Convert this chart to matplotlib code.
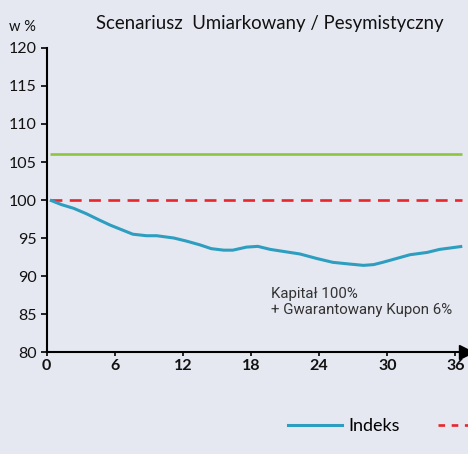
import numpy as np
import matplotlib
matplotlib.use('Agg')
from matplotlib import pyplot as plt
from matplotlib.lines import Line2D

# monthly path of the index (months, % of capital)
months = [0.3, 1.3, 2.4, 3.5, 4.6, 5.6, 6.6, 7.6, 8.8, 9.7, 11.2, 12.3, 13.5,
          14.5, 15.6, 16.4, 17.6, 18.6, 19.7, 21.0, 22.3, 23.8, 25.2, 26.5,
          27.9, 28.8, 29.6, 30.8, 32.0, 33.5, 34.6, 36.6]
indeks = [100.0, 99.4, 98.9, 98.2, 97.4, 96.7, 96.1, 95.5, 95.3, 95.3, 95.0,
          94.6, 94.1, 93.6, 93.4, 93.4, 93.8, 93.9, 93.5, 93.2, 92.9, 92.3,
          91.8, 91.6, 91.4, 91.5, 91.8, 92.3, 92.8, 93.1, 93.5, 93.9]
span = [0.3, 36.6]
gwarancja = [106, 106]
kapital = [100, 100]

xticks = [0, 6, 12, 18, 24, 30, 36]
yticks = [80, 85, 90, 95, 100, 105, 110, 115, 120]

BG = '#e5e8f1'
TEAL = '#2e9ec0'
GREEN = '#8cc63f'
RED = '#e8262b'
FONT = ['Lato', 'DejaVu Sans']

plt.rcParams['font.family'] = FONT

fig = plt.figure(figsize=(4.68, 4.54), dpi=100, facecolor=BG)
ax = fig.add_axes([46.5 / 468, 102 / 454, (37 * 11.36) / 468, 304 / 454])
ax.set_facecolor(BG)

ax.plot(span, gwarancja, color=GREEN, lw=1.9, solid_capstyle='butt')
ax.plot(span, kapital, color=RED, lw=1.9, dashes=(4.5, 2.8))
ax.plot(months, indeks, color=TEAL, lw=2.2, solid_capstyle='butt')

ax.set_xlim(0, 37)
ax.set_ylim(80, 120)
ax.set_xticks(xticks)
ax.set_yticks(yticks)
for s in ('top', 'right'):
    ax.spines[s].set_visible(False)
for s in ('left', 'bottom'):
    ax.spines[s].set_linewidth(1.5)
ax.tick_params(axis='y', length=4, width=1.2, labelsize=11.5, pad=3,
               labelcolor='#111111')
ax.tick_params(axis='x', length=3, width=1.2, labelsize=11.5, pad=2,
               labelcolor='#111111')
for lab in ax.get_xticklabels():
    lab.set_fontweight('bold')

# arrow head at the end of the x axis
ax.plot([36.95], [80], marker='>', ms=9.5, color='black', clip_on=False)

fig.text(96 / 468, 1 - 24 / 454, 'Scenariusz  Umiarkowany / Pesymistyczny',
         fontsize=13.4, va='center', ha='left', color='#111111')
fig.text(9 / 468, 1 - 27 / 454, 'w %', fontsize=10.5, va='center',
         ha='left', color='#111111')
ax.text(19.8, 86.6, 'Kapitał 100%\n+ Gwarantowany Kupon 6%', fontsize=10.8,
        color='#333333', family=['Roboto', 'DejaVu Sans'],
        linespacing=1.2, va='center', ha='left')

handles = [Line2D([], [], color=TEAL, lw=2.2),
           Line2D([], [], color=RED, lw=1.9, dashes=(2.5, 2.5))]
fig.legend(handles, ['Indeks', ' '], ncol=2, frameon=False,
           loc='center left', bbox_to_anchor=(288 / 468, 1 - 426 / 454),
           borderaxespad=0, borderpad=0, fontsize=13, handlelength=3.0,
           handletextpad=0.35, columnspacing=2.1)

fig.savefig('out.png', dpi=100, facecolor=BG)
